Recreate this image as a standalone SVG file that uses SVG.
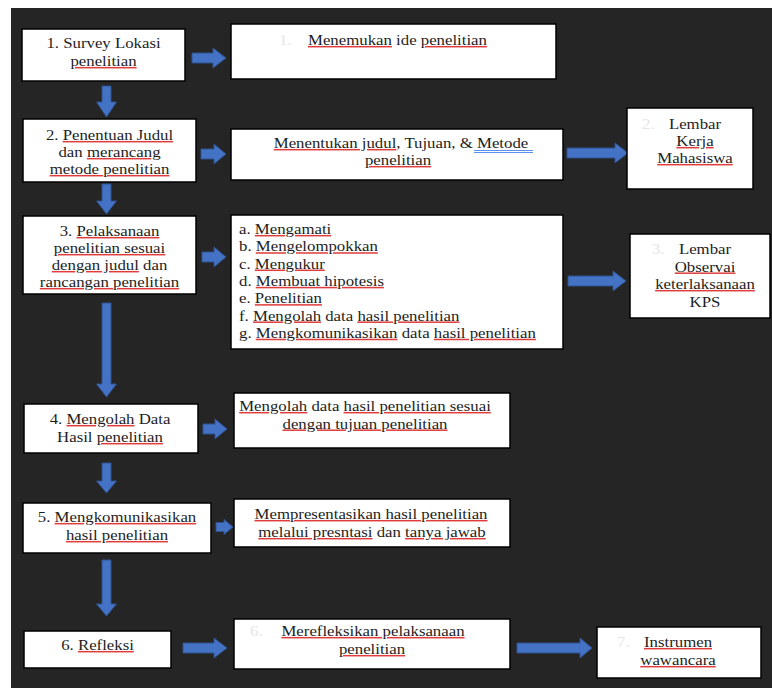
<svg xmlns="http://www.w3.org/2000/svg" width="772" height="688" viewBox="0 0 772 688">
<style>
.bg{fill:#252525}
.box{fill:#ffffff;stroke:#000000;stroke-width:1.5}
.t{font-family:'Liberation Serif','Noto Serif','DejaVu Serif',serif;font-size:15px;fill:#1e1e1e}
.c{text-anchor:middle}
.sp{fill:#e03c3c;text-decoration:underline}
.w{fill:#1e1e1e}
.g{font-family:'Liberation Serif','Noto Serif','DejaVu Serif',serif;font-size:15px;fill:#e6e6e6}
.arr{fill:#4472c4;stroke:#2f528f;stroke-width:1}
</style>
<rect x="0" y="0" width="772" height="688" fill="#ffffff"/>
<rect class="bg" x="11" y="8" width="761" height="680"/>

<g id="connectors">
  <polygon class="arr" points="192,53 213,53 213,48 226,58 213,68 213,63 192,63"/>
  <polygon class="arr" points="201,149 214,149 214,144 226,154 214,164 214,159 201,159"/>
  <polygon class="arr" points="567,148 615,148 615,143 628,153 615,163 615,158 567,158"/>
  <polygon class="arr" points="202,252 214,252 214,247 226,257 214,267 214,262 202,262"/>
  <polygon class="arr" points="568,276 613,276 613,271 626,281 613,291 613,286 568,286"/>
  <polygon class="arr" points="203,424 215,424 215,419 227,429 215,439 215,434 203,434"/>
  <polygon class="arr" points="216,522.5 224,522.5 224,519.5 233,527 224,534.5 224,531.5 216,531.5"/>
  <polygon class="arr" points="183,643 214,643 214,638 227,648 214,658 214,653 183,653"/>
  <polygon class="arr" points="517,643 580,643 580,638 592,648 580,658 580,653 517,653"/>
  <polygon class="arr" points="102,86 111,86 111,102 116.5,102 106.5,117 96.5,102 102,102"/>
  <polygon class="arr" points="102,184 111,184 111,201 116.5,201 106.5,214 96.5,201 102,201"/>
  <polygon class="arr" points="102,303 111,303 111,384 116.5,384 106.5,397 96.5,384 102,384"/>
  <polygon class="arr" points="102,463 111,463 111,481 116.5,481 106.5,493 96.5,481 102,481"/>
  <polygon class="arr" points="102,560 111,560 111,604 116.5,604 106.5,616 96.5,604 102,604"/>
</g>

<g id="n1">
  <rect class="box" x="22" y="29" width="163" height="52"/>
  <text class="t c" transform="translate(103.5 48) scale(1.12 1)">1. Survey Lokasi</text>
  <text class="t c" transform="translate(103.5 66) scale(1.12 1)"><tspan class="sp"><tspan class="w">penelitian</tspan></tspan></text>
</g>

<g id="n1b">
  <rect class="box" x="231" y="24" width="325" height="55"/>
  <text class="g" transform="translate(279 45) scale(1.12 1)">1.</text>
  <text class="t" transform="translate(308 45) scale(1.12 1)"><tspan class="sp"><tspan class="w">Menemukan</tspan></tspan> ide <tspan class="sp"><tspan class="w">penelitian</tspan></tspan></text>
</g>

<g id="n2">
  <rect class="box" x="23" y="119" width="173" height="63"/>
  <text class="t c" transform="translate(109.5 140) scale(1.12 1)">2. <tspan class="sp"><tspan class="w">Penentuan Judul</tspan></tspan></text>
  <text class="t c" transform="translate(109.5 157) scale(1.12 1)">dan <tspan class="sp"><tspan class="w">merancang</tspan></tspan></text>
  <text class="t c" transform="translate(109.5 174) scale(1.12 1)"><tspan class="sp"><tspan class="w">metode penelitian</tspan></tspan></text>
</g>

<g id="n2b">
  <rect class="box" x="231" y="129" width="332" height="51"/>
  <text class="t c" transform="translate(401 148) scale(1.12 1)"><tspan class="sp"><tspan class="w">Menentukan judul</tspan></tspan>, Tujuan, &amp; Metode </text>
  <text class="t c" transform="translate(398 165) scale(1.12 1)"><tspan class="sp"><tspan class="w">penelitian</tspan></tspan></text>
  <line x1="474" y1="150.5" x2="533" y2="150.5" stroke="#5b8ff0" stroke-width="1"/>
  <line x1="474" y1="152.5" x2="533" y2="152.5" stroke="#5b8ff0" stroke-width="1"/>
</g>

<g id="n2c">
  <rect class="box" x="627" y="108" width="126" height="81"/>
  <text class="g" transform="translate(642 129) scale(1.12 1)">2.</text>
  <text class="t c" transform="translate(695 129) scale(1.12 1)">Lembar</text>
  <text class="t c" transform="translate(695 146) scale(1.12 1)"><tspan class="sp"><tspan class="w">Kerja</tspan></tspan></text>
  <text class="t c" transform="translate(695 163) scale(1.12 1)"><tspan class="sp"><tspan class="w">Mahasiswa</tspan></tspan></text>
</g>

<g id="n3">
  <rect class="box" x="23" y="216" width="173" height="78"/>
  <text class="t c" transform="translate(109.5 236) scale(1.12 1)">3. <tspan class="sp"><tspan class="w">Pelaksanaan</tspan></tspan></text>
  <text class="t c" transform="translate(109.5 253) scale(1.12 1)"><tspan class="sp"><tspan class="w">penelitian sesuai</tspan></tspan></text>
  <text class="t c" transform="translate(109.5 270) scale(1.12 1)"><tspan class="sp"><tspan class="w">dengan judul</tspan></tspan> dan</text>
  <text class="t c" transform="translate(109.5 287) scale(1.12 1)"><tspan class="sp"><tspan class="w">rancangan penelitian</tspan></tspan></text>
</g>

<g id="n3b">
  <rect class="box" x="231" y="215" width="332" height="134"/>
  <text class="t" transform="translate(239 234) scale(1.12 1)">a. <tspan class="sp"><tspan class="w">Mengamati</tspan></tspan></text>
  <text class="t" transform="translate(239 251.3) scale(1.12 1)">b. <tspan class="sp"><tspan class="w">Mengelompokkan</tspan></tspan></text>
  <text class="t" transform="translate(239 268.6) scale(1.12 1)">c. <tspan class="sp"><tspan class="w">Mengukur</tspan></tspan></text>
  <text class="t" transform="translate(239 285.9) scale(1.12 1)">d. <tspan class="sp"><tspan class="w">Membuat hipotesis</tspan></tspan></text>
  <text class="t" transform="translate(239 303.2) scale(1.12 1)">e. <tspan class="sp"><tspan class="w">Penelitian</tspan></tspan></text>
  <text class="t" transform="translate(239 320.5) scale(1.12 1)">f. <tspan class="sp"><tspan class="w">Mengolah</tspan></tspan> data <tspan class="sp"><tspan class="w">hasil penelitian</tspan></tspan></text>
  <text class="t" transform="translate(239 337.8) scale(1.12 1)">g. <tspan class="sp"><tspan class="w">Mengkomunikasikan</tspan></tspan> data <tspan class="sp"><tspan class="w">hasil penelitian</tspan></tspan></text>
</g>

<g id="n3c">
  <rect class="box" x="630" y="234" width="140" height="84"/>
  <text class="g" transform="translate(652 254) scale(1.12 1)">3.</text>
  <text class="t c" transform="translate(705 254) scale(1.12 1)">Lembar</text>
  <text class="t c" transform="translate(705 271.5) scale(1.12 1)"><tspan class="sp"><tspan class="w">Observai</tspan></tspan></text>
  <text class="t c" transform="translate(705 289) scale(1.12 1)"><tspan class="sp"><tspan class="w">keterlaksanaan</tspan></tspan></text>
  <text class="t c" transform="translate(705 306.5) scale(1.12 1)">KPS</text>
</g>

<g id="n4">
  <rect class="box" x="24" y="404" width="174" height="49"/>
  <text class="t c" transform="translate(110 424) scale(1.12 1)">4. <tspan class="sp"><tspan class="w">Mengolah</tspan></tspan> Data</text>
  <text class="t c" transform="translate(110 442) scale(1.12 1)">Hasil <tspan class="sp"><tspan class="w">penelitian</tspan></tspan></text>
</g>

<g id="n4b">
  <rect class="box" x="234" y="393" width="276" height="55"/>
  <text class="t c" transform="translate(365 411) scale(1.12 1)"><tspan class="sp"><tspan class="w">Mengolah</tspan></tspan> data <tspan class="sp"><tspan class="w">hasil penelitian sesuai</tspan></tspan></text>
  <text class="t c" transform="translate(365 428.5) scale(1.12 1)"><tspan class="sp"><tspan class="w">dengan tujuan penelitian</tspan></tspan></text>
</g>

<g id="n5">
  <rect class="box" x="23" y="503" width="188" height="50"/>
  <text class="t c" transform="translate(117 522) scale(1.12 1)">5. <tspan class="sp"><tspan class="w">Mengkomunikasikan</tspan></tspan></text>
  <text class="t c" transform="translate(117 540) scale(1.12 1)"><tspan class="sp"><tspan class="w">hasil penelitian</tspan></tspan></text>
</g>

<g id="n5b">
  <rect class="box" x="234" y="499" width="276" height="48"/>
  <text class="t c" transform="translate(371 519) scale(1.12 1)"><tspan class="sp"><tspan class="w">Mempresentasikan hasil penelitian</tspan></tspan></text>
  <text class="t c" transform="translate(372 537) scale(1.12 1)"><tspan class="sp"><tspan class="w">melalui presntasi</tspan></tspan> dan <tspan class="sp"><tspan class="w">tanya jawab</tspan></tspan></text>
</g>

<g id="n6">
  <rect class="box" x="24" y="631" width="147" height="37"/>
  <text class="t c" transform="translate(97.5 650) scale(1.12 1)">6. <tspan class="sp"><tspan class="w">Refleksi</tspan></tspan></text>
</g>

<g id="n6b">
  <rect class="box" x="234" y="619" width="276" height="50"/>
  <text class="g" transform="translate(250 636) scale(1.12 1)">6.</text>
  <text class="t c" transform="translate(373 636) scale(1.12 1)"><tspan class="sp"><tspan class="w">Merefleksikan pelaksanaan</tspan></tspan></text>
  <text class="t c" transform="translate(372 654) scale(1.12 1)"><tspan class="sp"><tspan class="w">penelitian</tspan></tspan></text>
</g>

<g id="n6c">
  <rect class="box" x="597" y="627" width="164" height="51"/>
  <text class="g" transform="translate(617 647) scale(1.12 1)">7.</text>
  <text class="t c" transform="translate(678 647) scale(1.12 1)"><tspan class="sp"><tspan class="w">Instrumen</tspan></tspan></text>
  <text class="t c" transform="translate(678 665) scale(1.12 1)"><tspan class="sp"><tspan class="w">wawancara</tspan></tspan></text>
</g>
</svg>
